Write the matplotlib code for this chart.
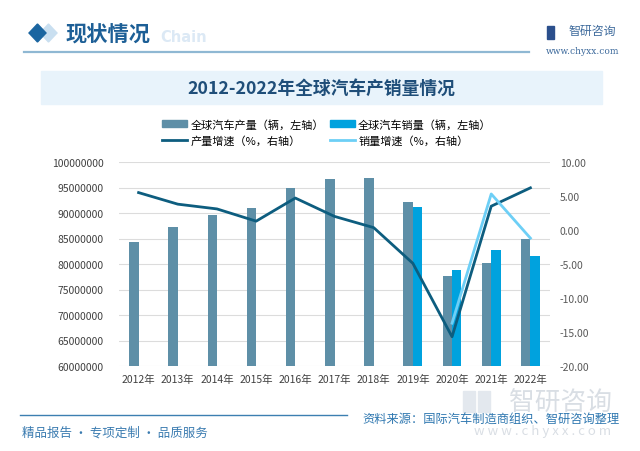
import numpy as np
import matplotlib
matplotlib.use("Agg")
import matplotlib.pyplot as plt
from matplotlib.patches import Polygon, Rectangle, Patch
from matplotlib.lines import Line2D

plt.rcParams['font.family'] = ['Noto Sans CJK SC', 'DejaVu Sans']

years = ['2012年', '2013年', '2014年', '2015年', '2016年', '2017年',
         '2018年', '2019年', '2020年', '2021年', '2022年']
production = [84240000, 87300000, 89700000, 90900000, 95000000, 96700000,
              96900000, 92100000, 77600000, 80100000, 85000000]
sales = [np.nan, np.nan, np.nan, np.nan, np.nan, np.nan,
         np.nan, 91200000, 78800000, 82700000, 81600000]
prod_growth = [5.5, 3.8, 3.1, 1.3, 4.7, 2.0, 0.35, -4.9, -15.7, 3.5, 6.2]
sales_growth = [np.nan] * 8 + [-13.7, 5.3, -1.2]

PROD_BAR = "#5e8fa7"; SALES_BAR = "#00a2de"
PROD_LINE = "#0d5d7f"; SALES_LINE = "#6dcff6"
NAVY = "#1f4e79"; BLUEISH = "#3a7bb0"; WM = "#d9dee4"

fig = plt.figure(figsize=(6.4, 4.52), dpi=100)

# page decoration, pixel coords
bg = fig.add_axes([0, 0, 1, 1])
bg.set_xlim(0, 640); bg.set_ylim(452, 0); bg.axis("off")
bg.text(160, 38, "Chain", fontsize=10.5, fontweight="bold", color="#dce9f5",
        va="center", family="DejaVu Sans")
bg.add_patch(Polygon([[48.5, 25], [57, 34], [48.5, 43], [40, 34]], color="#c9dff0"))
bg.add_patch(Polygon([[37.5, 25], [46, 34], [37.5, 43], [29, 34]], color="#1a65a0"))
bg.text(65, 35, "现状情况", fontsize=15.3, fontweight="bold", color="#1d5f96", va="center")
bg.plot([24, 529], [52.5, 52.5], color="#8fb8d3", lw=1.6)
bg.add_patch(Rectangle((547, 27), 7, 13, color="#2b4f8c"))
bg.text(569, 31, "智研咨询", fontsize=8.6, color="#3d6a9c", va="center")
bg.text(583, 51, "www.chyxx.com", fontsize=6.5, color="#3d6a9c", va="center",
        ha="center", family="DejaVu Serif")

bg.add_patch(Rectangle((41, 72), 561, 33, color="#e8f3fb"))
bg.text(321, 89, "2012-2022年全球汽车产销量情况", fontsize=12.8, fontweight="bold",
        color=NAVY, ha="center", va="center")

# watermark
bg.add_patch(Rectangle((463, 392), 12, 21, color="#e3e8ee"))
bg.add_patch(Rectangle((478, 392), 12, 21, color="#e3e8ee"))
bg.text(561, 403, "智研咨询", fontsize=18.5, color=WM, ha="center", va="center")
bg.text(543, 432, "w w w . c h y x x . c o m", fontsize=9.5, color=WM,
        ha="center", va="center")

bg.plot([20, 347], [416, 416], color="#3c7fb1", lw=1)
bg.text(22, 433, "精品报告 · 专项定制 · 品质服务", fontsize=9, color=BLUEISH, va="center")
bg.text(620, 419, "资料来源：国际汽车制造商组织、智研咨询整理", fontsize=8.8,
        color="#2e77b0", ha="right", va="center")

# chart
ax = fig.add_axes([119 / 640, 1 - 367 / 452, 431 / 640, 204 / 452])
ax.patch.set_alpha(0)
x = np.arange(len(years))
w = 0.24
ax.bar(x - w / 2, production, width=w, color=PROD_BAR, zorder=2)
ax.bar(x + w / 2, sales, width=w, color=SALES_BAR, zorder=2)
ax.set_ylim(60000000, 100000000)
ax.set_yticks(np.arange(60000000, 100000001, 5000000))
ax.yaxis.set_major_formatter(matplotlib.ticker.FuncFormatter(lambda v, p: f"{int(v)}"))
ax.set_xlim(-0.5, len(years) - 0.5)
ax.set_xticks(x)
ax.set_xticklabels(years)
ax.grid(axis="y", color="#dcdcdc", lw=0.8, zorder=0)
ax.set_axisbelow(True)
for s in ax.spines.values():
    s.set_visible(False)
ax.tick_params(length=0, labelsize=7.5, colors="#404040")
ax.tick_params(axis="y", pad=11)
ax.tick_params(axis="x", pad=6)

ax2 = ax.twinx()
ax2.plot(x, prod_growth, color=PROD_LINE, lw=2, zorder=3)
ax2.plot(x, sales_growth, color=SALES_LINE, lw=2, zorder=4)
ax2.set_ylim(-20, 10)
ax2.set_yticks(np.arange(-20, 10.1, 5))
ax2.yaxis.set_major_formatter(matplotlib.ticker.FuncFormatter(lambda v, p: f"{v:.2f}"))
for s in ax2.spines.values():
    s.set_visible(False)
ax2.tick_params(length=0, labelsize=7.5, colors="#595959", pad=7)

handles = [Patch(color=PROD_BAR), Line2D([], [], color=PROD_LINE, lw=2),
           Patch(color=SALES_BAR), Line2D([], [], color=SALES_LINE, lw=2)]
labels = ["全球汽车产量（辆，左轴）", "产量增速（%，右轴）",
          "全球汽车销量（辆，左轴）", "销量增速（%，右轴）"]
fig.legend(handles, labels, ncol=2, loc="center", bbox_to_anchor=(0.511, 1 - 133 / 452),
           frameon=False, fontsize=8, handlelength=2.2, handleheight=0.5,
           columnspacing=0.6, handletextpad=0.3, labelspacing=0.45)

fig.savefig("out.png", dpi=100)
